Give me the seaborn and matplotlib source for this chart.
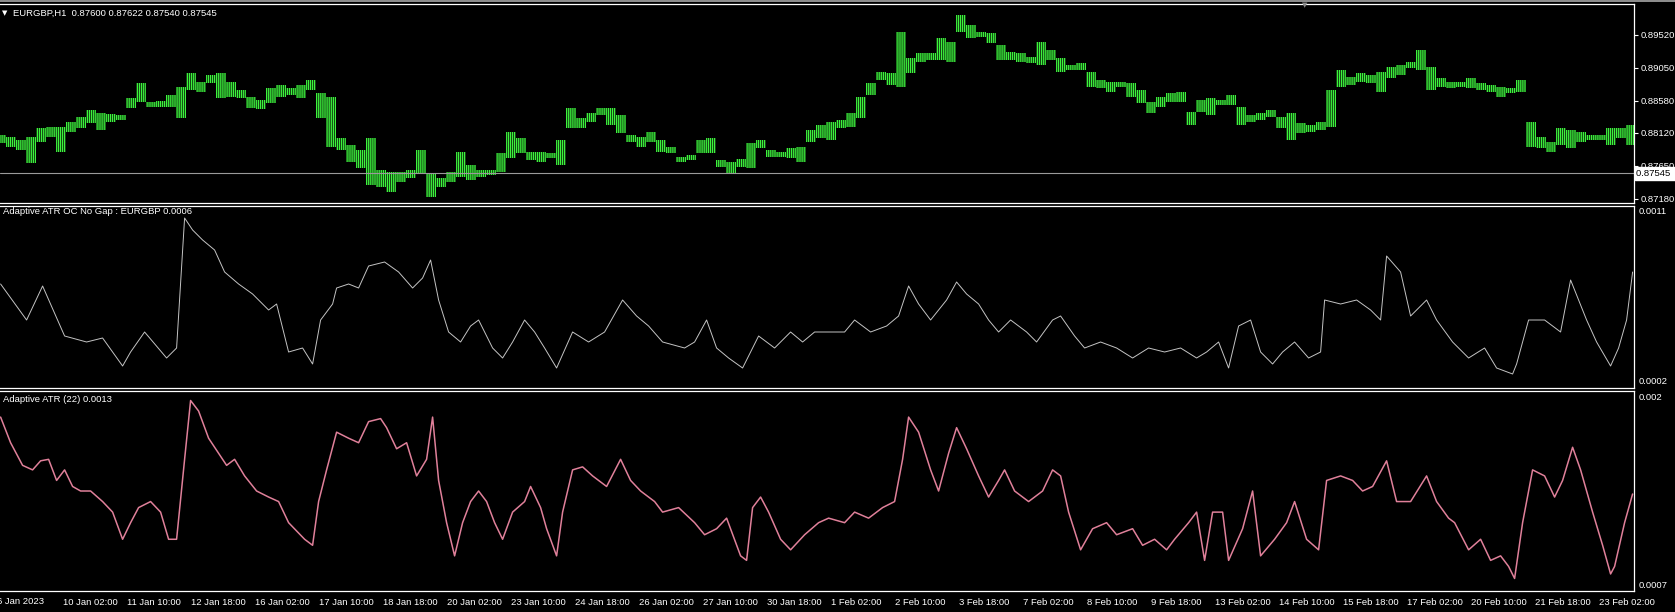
import numpy as np
import pandas as pd
import seaborn as sns
import matplotlib.pyplot as plt
import matplotlib.transforms as mtransforms
from matplotlib.patches import Rectangle

# texts
price_title = 'EURGBP,H1  0.87600 0.87622 0.87540 0.87545'
atr_oc_title = 'Adaptive ATR OC No Gap : EURGBP 0.0006'
atr_title = 'Adaptive ATR (22) 0.0013'
first_date = '6 Jan 2023'
hline_price = 0.87545

# x axis: bar index (H1 bars) and the date labels
date_bars = [31, 63, 95, 127, 159, 191, 223, 255, 287, 319, 351, 383, 415,
             447, 479, 511, 543, 575, 607, 639, 671, 703, 735, 767, 799]
date_labels = ['10 Jan 02:00', '11 Jan 10:00', '12 Jan 18:00', '16 Jan 02:00',
               '17 Jan 10:00', '18 Jan 18:00', '20 Jan 02:00', '23 Jan 10:00',
               '24 Jan 18:00', '26 Jan 02:00', '27 Jan 10:00', '30 Jan 18:00',
               '1 Feb 02:00', '2 Feb 10:00', '3 Feb 18:00', '7 Feb 02:00',
               '8 Feb 10:00', '9 Feb 18:00', '13 Feb 02:00', '14 Feb 10:00',
               '15 Feb 18:00', '17 Feb 02:00', '20 Feb 10:00', '21 Feb 18:00',
               '23 Feb 02:00']

# price ticks (right axis)
price_ticks = [0.8952, 0.8905, 0.8858, 0.8812, 0.8765, 0.8718]
price_tick_labels = ['0.89520', '0.89050', '0.88580', '0.88120', '0.87650', '0.87180']

# price bars, one every 5 hours
price_bar = np.arange(0, 820, 5)
price_high = [0.8809, 0.8806, 0.8802, 0.8806, 0.8819, 0.8821, 0.8821, 0.8828, 0.8835, 0.8845,
              0.8840, 0.8839, 0.8838, 0.8862, 0.8883, 0.8856, 0.8858, 0.8866, 0.8878, 0.8897,
              0.8885, 0.8895, 0.8897, 0.8885, 0.8873, 0.8863, 0.8859, 0.8876, 0.8880, 0.8876,
              0.8880, 0.8887, 0.8869, 0.8863, 0.8805, 0.8795, 0.8788, 0.8805, 0.8759, 0.8756,
              0.8756, 0.8759, 0.8788, 0.8755, 0.8748, 0.8756, 0.8785, 0.8766, 0.8759, 0.8759,
              0.8784, 0.8813, 0.8805, 0.8785, 0.8785, 0.8784, 0.8802, 0.8848, 0.8833, 0.8840,
              0.8848, 0.8848, 0.8838, 0.8809, 0.8806, 0.8813, 0.8802, 0.8792, 0.8778, 0.8781,
              0.8802, 0.8805, 0.8774, 0.8771, 0.8775, 0.8798, 0.8802, 0.8788, 0.8785, 0.8791,
              0.8792, 0.8816, 0.8823, 0.8828, 0.8831, 0.8840, 0.8863, 0.8883, 0.8899, 0.8897,
              0.8956, 0.8919, 0.8926, 0.8926, 0.8947, 0.8942, 0.8980, 0.8966, 0.8956, 0.8954,
              0.8937, 0.8927, 0.8926, 0.8920, 0.8942, 0.8930, 0.8919, 0.8909, 0.8912, 0.8899,
              0.8888, 0.8885, 0.8885, 0.8883, 0.8873, 0.8856, 0.8863, 0.8869, 0.8870, 0.8842,
              0.8859, 0.8862, 0.8859, 0.8866, 0.8849, 0.8838, 0.8840, 0.8845, 0.8835, 0.8840,
              0.8826, 0.8823, 0.8828, 0.8873, 0.8902, 0.8892, 0.8897, 0.8895, 0.8899, 0.8906,
              0.8909, 0.8913, 0.8930, 0.8906, 0.8890, 0.8885, 0.8885, 0.8890, 0.8883, 0.8880,
              0.8878, 0.8876, 0.8887, 0.8828, 0.8806, 0.8799, 0.8819, 0.8816, 0.8813, 0.8809,
              0.8809, 0.8819, 0.8819, 0.8823]
price_low = [0.8798, 0.8792, 0.8788, 0.8769, 0.8799, 0.8806, 0.8785, 0.8813, 0.8819, 0.8826,
             0.8816, 0.8828, 0.8831, 0.8848, 0.8856, 0.8849, 0.8849, 0.8849, 0.8833, 0.8873,
             0.8870, 0.8883, 0.8862, 0.8863, 0.8862, 0.8848, 0.8846, 0.8855, 0.8863, 0.8866,
             0.8862, 0.8873, 0.8833, 0.8792, 0.8788, 0.8771, 0.8762, 0.8738, 0.8735, 0.8728,
             0.8742, 0.8748, 0.8755, 0.8721, 0.8735, 0.8742, 0.8749, 0.8745, 0.8749, 0.8752,
             0.8756, 0.8776, 0.8784, 0.8774, 0.8771, 0.8776, 0.8766, 0.8819, 0.8819, 0.8828,
             0.8838, 0.8823, 0.8812, 0.8799, 0.8792, 0.8799, 0.8785, 0.8784, 0.8771, 0.8774,
             0.8784, 0.8784, 0.8764, 0.8755, 0.8764, 0.8762, 0.8791, 0.8778, 0.8778, 0.8776,
             0.8771, 0.8799, 0.8805, 0.8802, 0.8819, 0.8821, 0.8833, 0.8866, 0.8887, 0.8880,
             0.8878, 0.8897, 0.8913, 0.8916, 0.8916, 0.8913, 0.8956, 0.8947, 0.8949, 0.8940,
             0.8916, 0.8916, 0.8913, 0.8912, 0.8909, 0.8916, 0.8899, 0.8902, 0.8902, 0.8878,
             0.8876, 0.8870, 0.8878, 0.8863, 0.8855, 0.8840, 0.8849, 0.8856, 0.8856, 0.8823,
             0.8842, 0.8838, 0.8852, 0.8852, 0.8823, 0.8828, 0.8831, 0.8835, 0.8819, 0.8802,
             0.8812, 0.8813, 0.8816, 0.8821, 0.8878, 0.8880, 0.8885, 0.8883, 0.8870, 0.8890,
             0.8895, 0.8905, 0.8902, 0.8873, 0.8878, 0.8876, 0.8878, 0.8876, 0.8873, 0.8870,
             0.8863, 0.8869, 0.8870, 0.8792, 0.8791, 0.8785, 0.8795, 0.8791, 0.8799, 0.8802,
             0.8802, 0.8795, 0.8805, 0.8795]

# Adaptive ATR OC No Gap (grey line)
atr_oc_bar = [0, 13, 21, 32, 43, 51, 61, 65, 72, 83,
              88, 92, 96, 101, 107, 112, 119, 126, 134, 138,
              144, 151, 156, 160, 166, 168, 174, 179, 184, 192,
              199, 206, 211, 215, 219, 224, 230, 235, 239, 246,
              251, 256, 262, 267, 272, 278, 286, 294, 302, 311,
              318, 324, 331, 342, 347, 353, 358, 364, 371, 379,
              387, 395, 401, 407, 414, 422, 427, 435, 443, 449,
              454, 459, 465, 473, 478, 483, 489, 494, 499, 505,
              513, 518, 526, 530, 537, 542, 550, 558, 566, 574,
              582, 590, 598, 603, 609, 614, 619, 625, 630, 636,
              641, 647, 654, 660, 662, 670, 678, 685, 690, 693,
              700, 705, 713, 718, 726, 734, 742, 748, 756, 758,
              764, 772, 780, 785, 793, 798, 805, 809, 813, 816]
atr_oc = [0.00071, 0.00053, 0.00070, 0.00045, 0.00042, 0.00044, 0.00030, 0.00037, 0.00047, 0.00034,
          0.00039, 0.00104, 0.00098, 0.00093, 0.00088, 0.00077, 0.00071, 0.00066, 0.00058, 0.00061,
          0.00037, 0.00039, 0.00031, 0.00053, 0.00061, 0.00069, 0.00071, 0.00069, 0.00080, 0.00082,
          0.00077, 0.00069, 0.00074, 0.00083, 0.00063, 0.00047, 0.00042, 0.00050, 0.00053, 0.00039,
          0.00034, 0.00042, 0.00053, 0.00047, 0.00039, 0.00029, 0.00047, 0.00042, 0.00047, 0.00063,
          0.00055, 0.00050, 0.00042, 0.00039, 0.00042, 0.00053, 0.00039, 0.00034, 0.00029, 0.00045,
          0.00039, 0.00047, 0.00042, 0.00047, 0.00047, 0.00047, 0.00053, 0.00047, 0.00050, 0.00055,
          0.00070, 0.00061, 0.00053, 0.00063, 0.00072, 0.00066, 0.00061, 0.00053, 0.00047, 0.00053,
          0.00047, 0.00042, 0.00053, 0.00055, 0.00045, 0.00039, 0.00042, 0.00039, 0.00034, 0.00039,
          0.00037, 0.00039, 0.00034, 0.00037, 0.00042, 0.00029, 0.00050, 0.00053, 0.00037, 0.00031,
          0.00037, 0.00042, 0.00034, 0.00037, 0.00063, 0.00061, 0.00063, 0.00058, 0.00053, 0.00085,
          0.00077, 0.00055, 0.00063, 0.00053, 0.00042, 0.00034, 0.00039, 0.00029, 0.00026, 0.00031,
          0.00053, 0.00053, 0.00047, 0.00073, 0.00053, 0.00042, 0.00030, 0.00039, 0.00053, 0.00077]

# Adaptive ATR (22) (pink line)
atr_bar = [0, 5, 11, 16, 20, 24, 28, 32, 36, 40,
           45, 51, 56, 61, 65, 69, 75, 80, 84, 88,
           92, 95, 99, 104, 109, 113, 117, 122, 128, 134,
           139, 144, 152, 156, 159, 163, 168, 174, 179, 184,
           190, 193, 198, 203, 208, 213, 216, 219, 223, 227,
           231, 235, 239, 243, 247, 251, 256, 262, 265, 270,
           273, 278, 281, 286, 291, 296, 303, 310, 315, 320,
           327, 331, 339, 347, 352, 358, 363, 370, 373, 376,
           380, 384, 390, 395, 402, 409, 414, 422, 427, 434,
           441, 447, 451, 454, 459, 465, 469, 474, 478, 483,
           489, 494, 499, 502, 507, 514, 521, 526, 530, 534,
           540, 546, 553, 558, 566, 571, 577, 583, 587, 594,
           598, 602, 606, 611, 614, 621, 626, 630, 637, 643,
           647, 653, 659, 663, 670, 676, 681, 686, 693, 698,
           705, 713, 718, 724, 727, 734, 740, 745, 750, 754,
           757, 761, 766, 772, 777, 781, 786, 790, 796, 801,
           805, 807, 812, 816]
atr = [0.00184, 0.00167, 0.00152, 0.00149, 0.00155, 0.00156, 0.00142, 0.00149, 0.00138, 0.00135,
       0.00135, 0.00128, 0.00121, 0.00103, 0.00114, 0.00124, 0.00128, 0.00121, 0.00103, 0.00103,
       0.00156, 0.00195, 0.00188, 0.00170, 0.00160, 0.00152, 0.00156, 0.00145, 0.00135, 0.00131,
       0.00128, 0.00114, 0.00103, 0.00099, 0.00128, 0.00149, 0.00174, 0.00170, 0.00167, 0.00181,
       0.00183, 0.00177, 0.00163, 0.00167, 0.00145, 0.00156, 0.00184, 0.00142, 0.00114, 0.00092,
       0.00114, 0.00128, 0.00135, 0.00128, 0.00114, 0.00103, 0.00121, 0.00128, 0.00138, 0.00124,
       0.00110, 0.00092, 0.00121, 0.00149, 0.00151, 0.00145, 0.00138, 0.00156, 0.00142, 0.00135,
       0.00128, 0.00121, 0.00124, 0.00114, 0.00106, 0.00110, 0.00117, 0.00092, 0.00089, 0.00124,
       0.00131, 0.00121, 0.00103, 0.00096, 0.00106, 0.00114, 0.00117, 0.00114, 0.00121, 0.00117,
       0.00124, 0.00128, 0.00156, 0.00184, 0.00174, 0.00149, 0.00135, 0.00160, 0.00177, 0.00163,
       0.00145, 0.00131, 0.00142, 0.00149, 0.00135, 0.00128, 0.00135, 0.00149, 0.00145, 0.00121,
       0.00096, 0.00110, 0.00114, 0.00106, 0.00110, 0.00099, 0.00103, 0.00096, 0.00103, 0.00114,
       0.00121, 0.00089, 0.00121, 0.00121, 0.00089, 0.00110, 0.00135, 0.00092, 0.00103, 0.00114,
       0.00128, 0.00103, 0.00096, 0.00142, 0.00145, 0.00142, 0.00135, 0.00138, 0.00155, 0.00128,
       0.00128, 0.00145, 0.00128, 0.00117, 0.00114, 0.00096, 0.00103, 0.00089, 0.00092, 0.00085,
       0.00077, 0.00114, 0.00149, 0.00145, 0.00131, 0.00142, 0.00164, 0.00149, 0.00121, 0.00099,
       0.00080, 0.00085, 0.00114, 0.00133]

df_price = pd.DataFrame({'bar': price_bar, 'high': price_high, 'low': price_low})
df_oc = pd.DataFrame({'bar': atr_oc_bar, 'atr': atr_oc})
df_atr = pd.DataFrame({'bar': atr_bar, 'atr': atr})

sns.set_style('dark', {'axes.facecolor': 'black', 'figure.facecolor': 'black'})
plt.rcParams['font.family'] = ['Liberation Sans', 'DejaVu Sans']
plt.rcParams['hatch.linewidth'] = 0.5
fs = 6.8
W, H = 1675, 612

fig = plt.figure(figsize=(W / 100, H / 100), dpi=100)
fig.patch.set_facecolor('black')

def px_axes(top, bottom):
    return fig.add_axes([0, 1 - bottom / H, 1634 / W, (bottom - top) / H])

ax1 = px_axes(4, 203)
ax2 = px_axes(206, 388)
ax3 = px_axes(391, 591)

for ax in (ax1, ax2, ax3):
    ax.set_facecolor('black')
    ax.grid(False)
    ax.set_xlim(-0.3, 816.7)
    for side in ('top', 'right', 'bottom'):
        ax.spines[side].set_color('white')
        ax.spines[side].set_linewidth(0.9)
    ax.spines['left'].set_visible(False)

# price bars (thin black hatch gives the bar-by-bar texture)
ax1.bar(df_price['bar'], df_price['high'] - df_price['low'], bottom=df_price['low'],
        width=5, color='#3df23d', edgecolor='black', hatch='|' * 8, linewidth=0)
ax1.axhline(hline_price, color='#9a9a9a', lw=0.8)
ax1.set_ylim(0.87123, 0.89957)
ax1.yaxis.tick_right()
ax1.set_yticks(price_ticks, labels=price_tick_labels)
ax1.tick_params(axis='y', direction='out', length=3, width=0.8, colors='white',
                labelsize=fs, pad=2)
ax1.set_xticks([])
tr = mtransforms.blended_transform_factory(ax1.transAxes, ax1.transData)
ax1.text(1.0015, hline_price, '0.87545 ', transform=tr, ha='left', va='center',
         color='black', fontsize=fs, clip_on=False,
         bbox=dict(boxstyle='square,pad=0.2', fc='white', ec='white'))

# ATR OC no gap
sns.lineplot(data=df_oc, x='bar', y='atr', ax=ax2, color='#c4c4c4', linewidth=0.7,
             estimator=None)
ax2.set_ylim(0.00019, 0.0011)
ax2.set_xticks([])
ax2.set_yticks([])
ax2.set_xlabel('')
ax2.set_ylabel('')

# Adaptive ATR
sns.lineplot(data=df_atr, x='bar', y='atr', ax=ax3, color='#e0809a', linewidth=1.1,
             estimator=None)
ax3.set_ylim(0.000687, 0.002013)
ax3.set_yticks([])
ax3.set_xticks(date_bars, labels=date_labels)
for lab in ax3.get_xticklabels():
    lab.set_horizontalalignment('left')
ax3.tick_params(axis='x', direction='out', length=3.5, width=0.8, colors='white',
                labelsize=fs, pad=1.5)
ax3.set_xlabel('')
ax3.set_ylabel('')

# texts
txt = dict(color='white', fontsize=fs, va='center')
fig.text(13 / W, 1 - 13 / H, price_title, ha='left', **txt)
fig.text(2 / W, 1 - 13 / H, '▼', ha='left', color='white', fontsize=5, va='center',
         family=['DejaVu Sans'])
fig.text(3 / W, 1 - 212 / H, atr_oc_title, ha='left', **txt)
fig.text(3 / W, 1 - 400 / H, atr_title, ha='left', **txt)
fig.text(1639 / W, 1 - 212 / H, '0.0011', ha='left', **txt)
fig.text(1639 / W, 1 - 382 / H, '0.0002', ha='left', **txt)
fig.text(1639 / W, 1 - 397 / H, '0.002', ha='left', **txt)
fig.text(1639 / W, 1 - 585 / H, '0.0007', ha='left', **txt)
fig.text(-3 / W, 1 - 601 / H, first_date, ha='left', **txt)
fig.text(1305 / W, 1 - 5 / H, '▼', ha='center', color='#8a8a8a', fontsize=5, va='center',
         family=['DejaVu Sans'])
fig.add_artist(Rectangle((0, 1 - 2 / H), 1, 2 / H, transform=fig.transFigure,
                         color='#8c8c8c', lw=0))

fig.savefig('out.png', dpi=100, facecolor='black')
